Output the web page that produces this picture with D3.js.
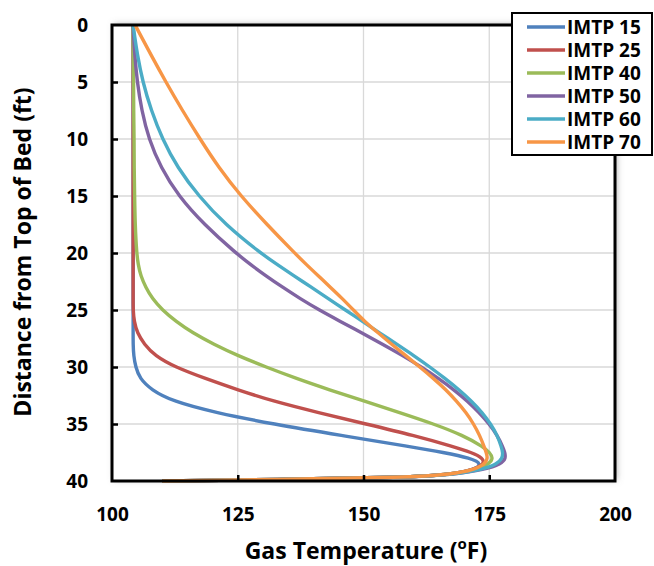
<!DOCTYPE html>
<html>
<head>
<meta charset="utf-8">
<script src="https://cdn.jsdelivr.net/npm/d3@7"></script>
<style>
  body { margin: 0; background: #fff; }
  svg { display: block; }
  text { font-family: "Open Sans", "Liberation Sans", sans-serif; font-weight: bold; fill: #000; }
</style>
</head>
<body>
<svg id="chart"></svg>
<script>
// Distance from top of bed (ft), shared by every series
const depth = [0, 1, 2.5, 5, 7.5, 10, 12.5, 15, 17.5, 20, 21, 22, 23, 24, 25, 26, 27, 28, 29, 30,
  31, 32, 33, 34, 35, 36, 37, 37.5, 38, 38.5, 39, 39.4, 39.7, 39.85, 40];

// Gas temperature (F) at each depth
const imtp15 = [104.2, 104.2, 104.2, 104.2, 104.2, 104.2, 104.2, 104.2, 104.2, 104.2, 104.2, 104.2, 104.2, 104.2, 104.2, 104.2, 104.2, 104.2, 104.3, 104.7,
  105.5, 107.8, 112, 120.5, 132, 145.5, 159.5, 166, 171.3, 173.6, 172, 168, 158, 135, 110];
const imtp25 = [104.2, 104.2, 104.2, 104.2, 104.2, 104.2, 104.2, 104.2, 104.2, 104.2, 104.2, 104.2, 104.2, 104.2, 104.2, 104.4, 105, 106.4, 108.5, 112.5,
  118.5, 125, 132, 141, 150.5, 160, 168, 171.5, 173.8, 174, 172, 168, 158, 135, 110];
const imtp40 = [104.2, 104.2, 104.2, 104.3, 104.3, 104.4, 104.4, 104.5, 104.6, 104.9, 105.2, 105.7, 106.7, 108, 110, 112.7, 116, 120.2, 125, 130.6,
  136.6, 143.2, 150.2, 157.2, 164, 169.8, 173.8, 175.1, 175.8, 175, 172.5, 168, 158, 135, 110];
const imtp50 = [104.2, 104.3, 104.5, 105, 105.9, 107.3, 109.7, 113.2, 118.3, 124.6, 127.5, 130.6, 133.9, 137.4, 141.2, 145.4, 149.6, 153.8, 157.8, 161.5,
  164.9, 168, 170.7, 173, 175, 176.6, 177.7, 178.1, 178.3, 177.4, 174, 168.5, 158, 135, 110];
const imtp60 = [104.2, 104.5, 105, 106.1, 107.8, 110, 113, 117.2, 122.5, 129.5, 132.8, 136.2, 139.6, 143, 146.4, 149.8, 153.2, 156.6, 160, 163.2,
  166.2, 169, 171.5, 173.6, 175.3, 176.6, 177.4, 177.7, 177.6, 176.6, 173.5, 168.5, 158, 135, 110];
const imtp70 = [104.6, 105.8, 107.6, 110.7, 114, 117.5, 121.2, 125.6, 130.8, 136.3, 138.6, 141, 143.4, 145.8, 148, 150.2, 152.9, 155.6, 158.4, 161.2,
  163.9, 166.4, 168.5, 170.4, 171.9, 173.1, 174, 174.4, 174.7, 174.2, 172, 168, 158, 135, 110];

const seriesNames = ["IMTP 15", "IMTP 25", "IMTP 40", "IMTP 50", "IMTP 60", "IMTP 70"];
const seriesValues = [imtp15, imtp25, imtp40, imtp50, imtp60, imtp70];
const seriesColors = ["#4F81BD", "#C0504D", "#9BBB59", "#8064A2", "#4BACC6", "#F79646"];

const xTicks = [100, 125, 150, 175, 200];
const yTicks = [0, 5, 10, 15, 20, 25, 30, 35, 40];

const width = 654, height = 566;
const margin = { top: 25, right: 39, bottom: 85, left: 112 };
const innerWidth = width - margin.left - margin.right;
const innerHeight = height - margin.top - margin.bottom;

const svg = d3.select("#chart")
  .attr("width", width)
  .attr("height", height);

// soft shadow behind the plot frame
const defs = svg.append("defs");
const shadow = defs.append("filter").attr("id", "shadow")
  .attr("x", "-5%").attr("y", "-5%").attr("width", "110%").attr("height", "110%");
shadow.append("feDropShadow")
  .attr("dx", 2).attr("dy", -1)
  .attr("stdDeviation", 3)
  .attr("flood-color", "#777")
  .attr("flood-opacity", 0.55);

const g = svg.append("g")
  .attr("transform", `translate(${margin.left},${margin.top})`);

// Scales
const xScale = d3.scaleLinear().domain([100, 200]).range([0, innerWidth]);
const yScale = d3.scaleLinear().domain([0, 40]).range([0, innerHeight]);

// plot background with shadow
g.append("rect")
  .attr("width", innerWidth)
  .attr("height", innerHeight)
  .attr("fill", "#fff")
  .attr("filter", "url(#shadow)");

// gridlines
g.append("g")
  .selectAll("line")
  .data(xTicks.slice(1, -1))
  .enter()
  .append("line")
  .attr("x1", d => xScale(d)).attr("x2", d => xScale(d))
  .attr("y1", 0).attr("y2", innerHeight)
  .attr("stroke", "#d9d9d9").attr("stroke-width", 1.3);

g.append("g")
  .selectAll("line")
  .data(yTicks.slice(1, -1))
  .enter()
  .append("line")
  .attr("x1", 0).attr("x2", innerWidth)
  .attr("y1", d => yScale(d)).attr("y2", d => yScale(d))
  .attr("stroke", "#d9d9d9").attr("stroke-width", 1.3);

// Lines
const line = d3.line()
  .x(d => xScale(d[1]))
  .y(d => yScale(d[0]))
  .curve(d3.curveBasis);

seriesValues.forEach((vals, i) => {
  g.append("path")
    .datum(depth.map((d, j) => [d, vals[j]]))
    .attr("fill", "none")
    .attr("stroke", seriesColors[i])
    .attr("stroke-width", 3.4)
    .attr("stroke-linejoin", "round")
    .attr("d", line);
});

// frame
g.append("rect")
  .attr("width", innerWidth)
  .attr("height", innerHeight)
  .attr("fill", "none")
  .attr("stroke", "#000")
  .attr("stroke-width", 3);

// Axes (ticks pointing into the plot)
const yAxis = g.append("g")
  .call(d3.axisLeft(yScale).tickValues(yTicks).tickSize(-6).tickPadding(24))
  .call(a => a.select(".domain").remove())
  .attr("font-size", null)
  .attr("font-family", null);
yAxis.selectAll(".tick line").attr("stroke", "#000").attr("stroke-width", 2.5)
  .filter(d => d === 0 || d === 40).remove();
yAxis.selectAll("text")
  .style("font-size", "19px");

const xAxis = g.append("g")
  .attr("transform", `translate(0,${innerHeight})`)
  .call(d3.axisBottom(xScale).tickValues(xTicks).tickSize(-6).tickPadding(27))
  .call(a => a.select(".domain").remove())
  .attr("font-size", null)
  .attr("font-family", null);
xAxis.selectAll(".tick line").attr("stroke", "#000").attr("stroke-width", 2.5)
  .filter(d => d === 100 || d === 200).remove();
xAxis.selectAll("text")
  .style("font-size", "19px");

// Axis titles
const xTitle = svg.append("text")
  .attr("x", 366)
  .attr("y", 559)
  .attr("text-anchor", "middle")
  .style("font-size", "23px")
  .text("Gas Temperature (");
xTitle.append("tspan").attr("baseline-shift", "super").style("font-size", "15px").text("o");
xTitle.append("tspan").text("F)");

svg.append("text")
  .attr("transform", "rotate(-90)")
  .attr("x", -252)
  .attr("y", 31)
  .attr("text-anchor", "middle")
  .style("font-size", "23px")
  .text("Distance from Top of Bed (ft)");

// Legend
const legend = svg.append("g")
  .attr("transform", "translate(512,13)");

legend.append("rect")
  .attr("width", 140)
  .attr("height", 142)
  .attr("fill", "#fff")
  .attr("stroke", "#000")
  .attr("stroke-width", 2);

seriesNames.forEach((name, i) => {
  const yy = 14 + i * 23;
  legend.append("line")
    .attr("x1", 15).attr("x2", 53)
    .attr("y1", yy).attr("y2", yy)
    .attr("stroke", seriesColors[i])
    .attr("stroke-width", 3.4);
  legend.append("text")
    .attr("x", 55)
    .attr("y", yy)
    .attr("dy", "0.35em")
    .style("font-size", "19px")
    .text(name);
});
</script>
</body>
</html>
